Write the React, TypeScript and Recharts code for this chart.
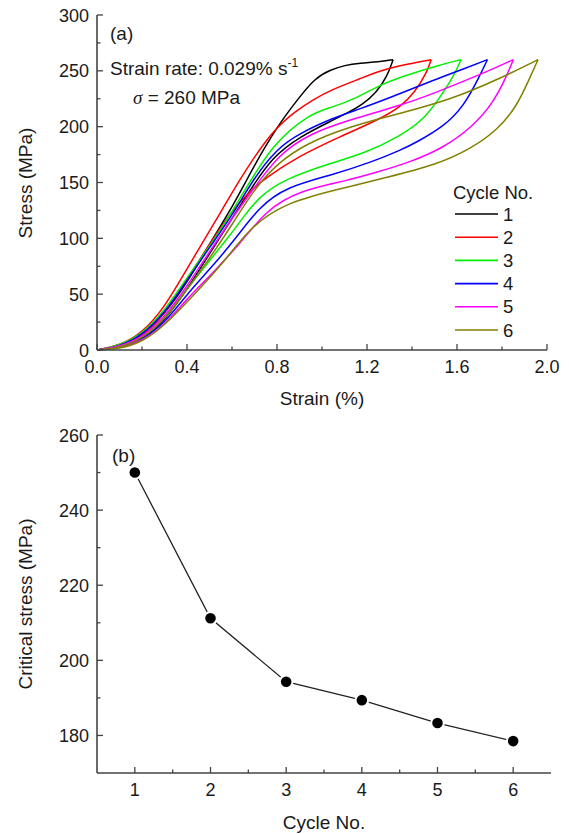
import { LineChart, Line, XAxis, YAxis } from "recharts";

// strain (%) , stress (MPa) pairs; each branch sorted by strain
const cycle1Loading = [[0, 0], [0.1, 3], [0.2, 12], [0.3, 32], [0.4, 60], [0.5, 95], [0.61, 131], [0.695, 164], [0.8, 200], [0.89, 224], [0.97, 244], [1.04, 251], [1.1, 255], [1.17, 257], [1.25, 258], [1.316, 260]];
const cycle1Unloading = [[0, 0], [0.1, 2], [0.2, 9], [0.3, 26], [0.4, 54], [0.5, 86], [0.6, 118], [0.68, 143], [0.78, 173], [0.9, 191], [1.05, 206], [1.12, 213], [1.18, 220], [1.24, 230], [1.29, 245], [1.316, 260]];
const cycle2Loading = [[0, 0], [0.1, 4], [0.2, 15], [0.3, 38], [0.4, 73], [0.52, 113], [0.64, 155], [0.78, 197], [0.89, 215], [0.96, 224], [1.04, 233], [1.17, 243], [1.27, 251], [1.38, 256], [1.485, 260]];
const cycle2Unloading = [[0, 0], [0.1, 3], [0.2, 12], [0.3, 32], [0.4, 63], [0.5, 95], [0.6, 125], [0.68, 142], [0.74, 153], [0.9, 174], [1.08, 191], [1.26, 207], [1.35, 218], [1.41, 230], [1.465, 248], [1.485, 260]];
const cycle3Loading = [[0, 0], [0.1, 4], [0.2, 14], [0.3, 35], [0.4, 65], [0.52, 98], [0.64, 137], [0.78, 185], [0.95, 212], [1.04, 217], [1.15, 225], [1.27, 239], [1.42, 249], [1.52, 255], [1.618, 260]];
const cycle3Unloading = [[0, 0], [0.1, 2], [0.2, 10], [0.3, 27], [0.4, 55], [0.5, 80], [0.6, 105], [0.65, 119], [0.72, 137], [0.83, 153], [1.05, 168], [1.2, 177], [1.35, 192], [1.45, 206], [1.52, 225], [1.585, 245], [1.618, 260]];
const cycle4Loading = [[0, 0], [0.1, 3], [0.2, 13], [0.3, 33], [0.4, 62], [0.5, 92], [0.6, 120], [0.7, 155], [0.8, 180], [0.89, 193], [1.05, 208], [1.17, 216], [1.29, 225], [1.5, 242], [1.62, 251], [1.735, 260]];
const cycle4Unloading = [[0, 0], [0.1, 2], [0.2, 9], [0.3, 24], [0.4, 50], [0.5, 72], [0.61, 98], [0.72, 128], [0.84, 146], [1.05, 157], [1.23, 169], [1.35, 179], [1.42, 186], [1.54, 200], [1.63, 218], [1.7, 245], [1.735, 260]];
const cycle5Loading = [[0, 0], [0.1, 3], [0.2, 11], [0.3, 29], [0.4, 57], [0.5, 88], [0.6, 118], [0.68, 140], [0.81, 176], [0.95, 194], [1.12, 206], [1.35, 219], [1.5, 230], [1.72, 248], [1.85, 260]];
const cycle5Unloading = [[0, 0], [0.1, 2], [0.2, 8], [0.3, 22], [0.4, 46], [0.5, 66], [0.64, 96], [0.75, 125], [0.9, 143], [1.12, 152], [1.24, 159], [1.39, 168], [1.54, 181], [1.67, 200], [1.76, 221], [1.82, 245], [1.85, 260]];
const cycle6Loading = [[0, 0], [0.1, 2], [0.2, 10], [0.3, 27], [0.4, 54], [0.5, 82], [0.6, 112], [0.695, 143], [0.8, 167], [0.93, 185], [1.12, 200], [1.35, 212], [1.57, 224], [1.79, 243], [1.96, 260]];
const cycle6Unloading = [[0, 0], [0.1, 1], [0.2, 7], [0.3, 22], [0.41, 45], [0.55, 75], [0.68, 110], [0.83, 131], [1.05, 143], [1.3, 155], [1.51, 166], [1.66, 180], [1.78, 197], [1.865, 218], [1.92, 242], [1.96, 260]];

const cycleLabels = ["1", "2", "3", "4", "5", "6"];
const cycleColors = ["#000000", "#ff0000", "#00f000", "#0000ff", "#ff00ff", "#808000"];

const strainTicks = [0, 0.2, 0.4, 0.6, 0.8, 1.0, 1.2, 1.4, 1.6, 1.8, 2.0];
const stressTicks = [0, 25, 50, 75, 100, 125, 150, 175, 200, 225, 250, 275, 300];

// panel (b)
const cycleNo = [1, 2, 3, 4, 5, 6];
const criticalStress = [250, 211.2, 194.3, 189.4, 183.3, 178.5];
const cycleTicks = [1, 1.5, 2, 2.5, 3, 3.5, 4, 4.5, 5, 5.5, 6];
const criticalTicks = [180, 190, 200, 210, 220, 230, 240, 250, 260];

const FONT = "'Liberation Sans', Arial, Helvetica, sans-serif";
const AXIS = "#444";
const TEXT = "#1a1a1a";

const toPts = (arr: number[][]) => arr.map(([x, y]) => ({ x, y }));

const loops = [
  [cycle1Loading, cycle1Unloading],
  [cycle2Loading, cycle2Unloading],
  [cycle3Loading, cycle3Unloading],
  [cycle4Loading, cycle4Unloading],
  [cycle5Loading, cycle5Unloading],
  [cycle6Loading, cycle6Unloading],
];

const panelB = cycleNo.map((c, i) => ({ cycle: c, stress: criticalStress[i] }));

function LeftTick({ x, y, payload, isMajor, fmt }: any) {
  const v = payload.value;
  const major = isMajor(v);
  return (
    <g>
      <line x1={x} x2={x + (major ? 6 : 3.5)} y1={y} y2={y} stroke={AXIS} strokeWidth={1.3} />
      {major && (
        <text x={x - 8} y={y + 6.5} textAnchor="end" fontSize={18} fontFamily={FONT} fill={TEXT}>
          {fmt(v)}
        </text>
      )}
    </g>
  );
}

function BottomTick({ x, y, payload, isMajor, fmt }: any) {
  const v = payload.value;
  const major = isMajor(v);
  return (
    <g>
      <line x1={x} x2={x} y1={y} y2={y - (major ? 6 : 3.5)} stroke={AXIS} strokeWidth={1.3} />
      {major && (
        <text x={x} y={y + 23} textAnchor="middle" fontSize={18} fontFamily={FONT} fill={TEXT}>
          {fmt(v)}
        </text>
      )}
    </g>
  );
}

const axisLine = { stroke: AXIS, strokeWidth: 1.6 };

export default function App() {
  return (
    <div style={{ position: "absolute", left: 0, top: 0, width: 569, height: 834, background: "#fff" }}>
      <div style={{ position: "absolute", left: 0, top: 0 }}>
        <LineChart width={569} height={410} margin={{ top: 15, right: 22, bottom: 0, left: 0 }}>
          <XAxis
            xAxisId="b"
            type="number"
            dataKey="x"
            domain={[0, 2]}
            ticks={strainTicks}
            interval={0}
            height={60}
            tickSize={0}
            tickMargin={0}
            tickLine={false}
            axisLine={axisLine}
            tick={(p: any) => (
              <BottomTick {...p} isMajor={(v: number) => Math.round(v * 10) % 4 === 0} fmt={(v: number) => v.toFixed(1)} />
            )}
          />
          <XAxis xAxisId="t" orientation="top" type="number" domain={[0, 2]} height={0} tick={false} tickLine={false} axisLine={axisLine} />
          <YAxis
            yAxisId="l"
            type="number"
            domain={[0, 300]}
            ticks={stressTicks}
            interval={0}
            width={97}
            tickSize={0}
            tickMargin={0}
            tickLine={false}
            axisLine={axisLine}
            tick={(p: any) => <LeftTick {...p} isMajor={(v: number) => v % 50 === 0} fmt={(v: number) => String(v)} />}
          />
          <YAxis yAxisId="r" orientation="right" type="number" domain={[0, 300]} width={0} tick={false} tickLine={false} axisLine={axisLine} />
          {loops.map((branches, i) =>
            branches.map((b, j) => (
              <Line
                key={`c${i}-${j}`}
                xAxisId="b"
                yAxisId="l"
                data={toPts(b)}
                dataKey="y"
                type="basis"
                stroke={cycleColors[i]}
                strokeWidth={1.5}
                dot={false}
                isAnimationActive={false}
              />
            ))
          )}
        </LineChart>
      </div>

      <div style={{ position: "absolute", left: 0, top: 410 }}>
        <LineChart width={569} height={424} data={panelB} margin={{ top: 25, right: 18, bottom: 0, left: 0 }}>
          <XAxis
            xAxisId="b"
            type="number"
            dataKey="cycle"
            domain={[0.5, 6.5]}
            ticks={cycleTicks}
            interval={0}
            height={61}
            tickSize={0}
            tickMargin={0}
            tickLine={false}
            axisLine={axisLine}
            tick={(p: any) => <BottomTick {...p} isMajor={(v: number) => Number.isInteger(v)} fmt={(v: number) => String(v)} />}
          />
          <XAxis xAxisId="t" orientation="top" type="number" domain={[0.5, 6.5]} height={0} tick={false} tickLine={false} axisLine={axisLine} />
          <YAxis
            yAxisId="l"
            type="number"
            domain={[170, 260]}
            ticks={criticalTicks}
            interval={0}
            width={97}
            tickSize={0}
            tickMargin={0}
            tickLine={false}
            axisLine={axisLine}
            tick={(p: any) => <LeftTick {...p} isMajor={(v: number) => v % 20 === 0} fmt={(v: number) => String(v)} />}
          />
          <YAxis yAxisId="r" orientation="right" type="number" domain={[170, 260]} width={0} tick={false} tickLine={false} axisLine={axisLine} />
          <Line
            xAxisId="b"
            yAxisId="l"
            dataKey="stress"
            type="linear"
            stroke="#222"
            strokeWidth={1.3}
            dot={{ r: 6.3, fill: "#000", stroke: "#fff", strokeWidth: 2 }}
            isAnimationActive={false}
          />
        </LineChart>
      </div>

      <svg width={569} height={834} style={{ position: "absolute", left: 0, top: 0, pointerEvents: "none" }} fontFamily={FONT} fill={TEXT}>
        <text x={110} y={40} fontSize={19}>(a)</text>
        <text x={110} y={75} fontSize={19}>
          Strain rate: 0.029% s
          <tspan fontSize={12} dy={-8}>-1</tspan>
        </text>
        <text x={133} y={104} fontSize={19}>
          <tspan fontStyle="italic" fontFamily="'Liberation Serif', serif">σ</tspan> = 260 MPa
        </text>
        <text x={453} y={198.5} fontSize={18.5}>Cycle No.</text>
        {cycleLabels.map((lab, i) => {
          const cy = 214 + i * 23.2;
          return (
            <g key={lab}>
              <line x1={455} x2={498} y1={cy} y2={cy} stroke={cycleColors[i]} strokeWidth={1.6} />
              <text x={503} y={cy + 6.5} fontSize={18.5}>{lab}</text>
            </g>
          );
        })}
        <text x={322} y={405} fontSize={19} textAnchor="middle">Strain (%)</text>
        <text transform="translate(32,183) rotate(-90)" fontSize={19} textAnchor="middle">Stress (MPa)</text>

        <text x={112} y={462} fontSize={19}>(b)</text>
        <text x={324} y={829} fontSize={19} textAnchor="middle">Cycle No.</text>
        <text transform="translate(32,604) rotate(-90)" fontSize={19} textAnchor="middle">Critical stress (MPa)</text>
      </svg>
    </div>
  );
}
